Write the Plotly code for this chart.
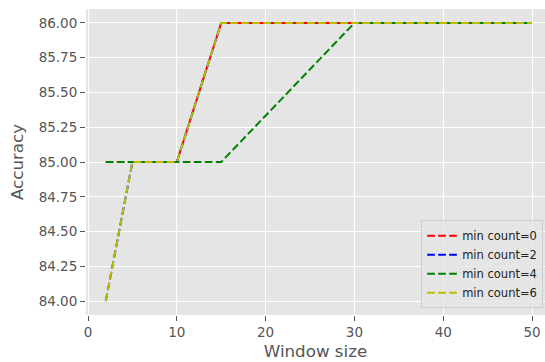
import plotly.graph_objects as go

# Window sizes tried and the resulting accuracy for each min-count setting
window_size = [2, 5, 10, 15, 30, 50]
acc_min0 = [85, 85, 85, 86, 86, 86]
acc_min2 = [84, 85, 85, 86, 86, 86]
acc_min4 = [85, 85, 85, 85, 86, 86]
acc_min6 = [84, 85, 85, 86, 86, 86]

series = [
    ("min count=0", acc_min0, "#FF0000"),
    ("min count=2", acc_min2, "#0000FF"),
    ("min count=4", acc_min4, "#008000"),
    ("min count=6", acc_min6, "#BFBF00"),
]

y_ticks = [84.0, 84.25, 84.5, 84.75, 85.0, 85.25, 85.5, 85.75, 86.0]

fig = go.Figure()
for name, values, color in series:
    fig.add_trace(go.Scatter(
        x=window_size, y=values, mode="lines", name=name,
        line=dict(color=color, width=2, dash="7.7px,3.3px"),
    ))

font_color = "#555555"
fig.update_layout(
    width=545, height=362,
    margin=dict(l=86, r=0, t=9, b=47),
    paper_bgcolor="white",
    plot_bgcolor="#E5E5E5",
    font=dict(family="DejaVu Sans", color=font_color, size=13.5),
    showlegend=True,
    legend=dict(
        x=0.996, y=0.022, xanchor="right", yanchor="bottom",
        bgcolor="rgba(229,229,229,0.8)", bordercolor="#CCCCCC", borderwidth=1,
        font=dict(size=11.5, color="#222222"),
        itemwidth=30, tracegroupgap=0,
    ),
    xaxis=dict(
        range=[-0.225, 51.46],
        tickvals=[0, 10, 20, 30, 40, 50],
        showgrid=True, gridcolor="white", gridwidth=1.3,
        zeroline=False, showline=False,
        ticks="outside", ticklen=5, tickcolor=font_color, tickwidth=1,
        tickfont=dict(size=13.5, color=font_color),
        title=dict(text="Window size", font=dict(size=16.7, color=font_color), standoff=6),
    ),
    yaxis=dict(
        range=[83.9, 86.1],
        tickvals=y_ticks,
        ticktext=[f"{v:.2f}" for v in y_ticks],
        showgrid=True, gridcolor="white", gridwidth=1.3,
        zeroline=False, showline=False,
        ticks="outside", ticklen=5, tickcolor=font_color, tickwidth=1,
        tickfont=dict(size=13.5, color=font_color),
        title=dict(text="Accuracy", font=dict(size=16.7, color=font_color), standoff=10),
    ),
)

fig.write_html("out.html")
